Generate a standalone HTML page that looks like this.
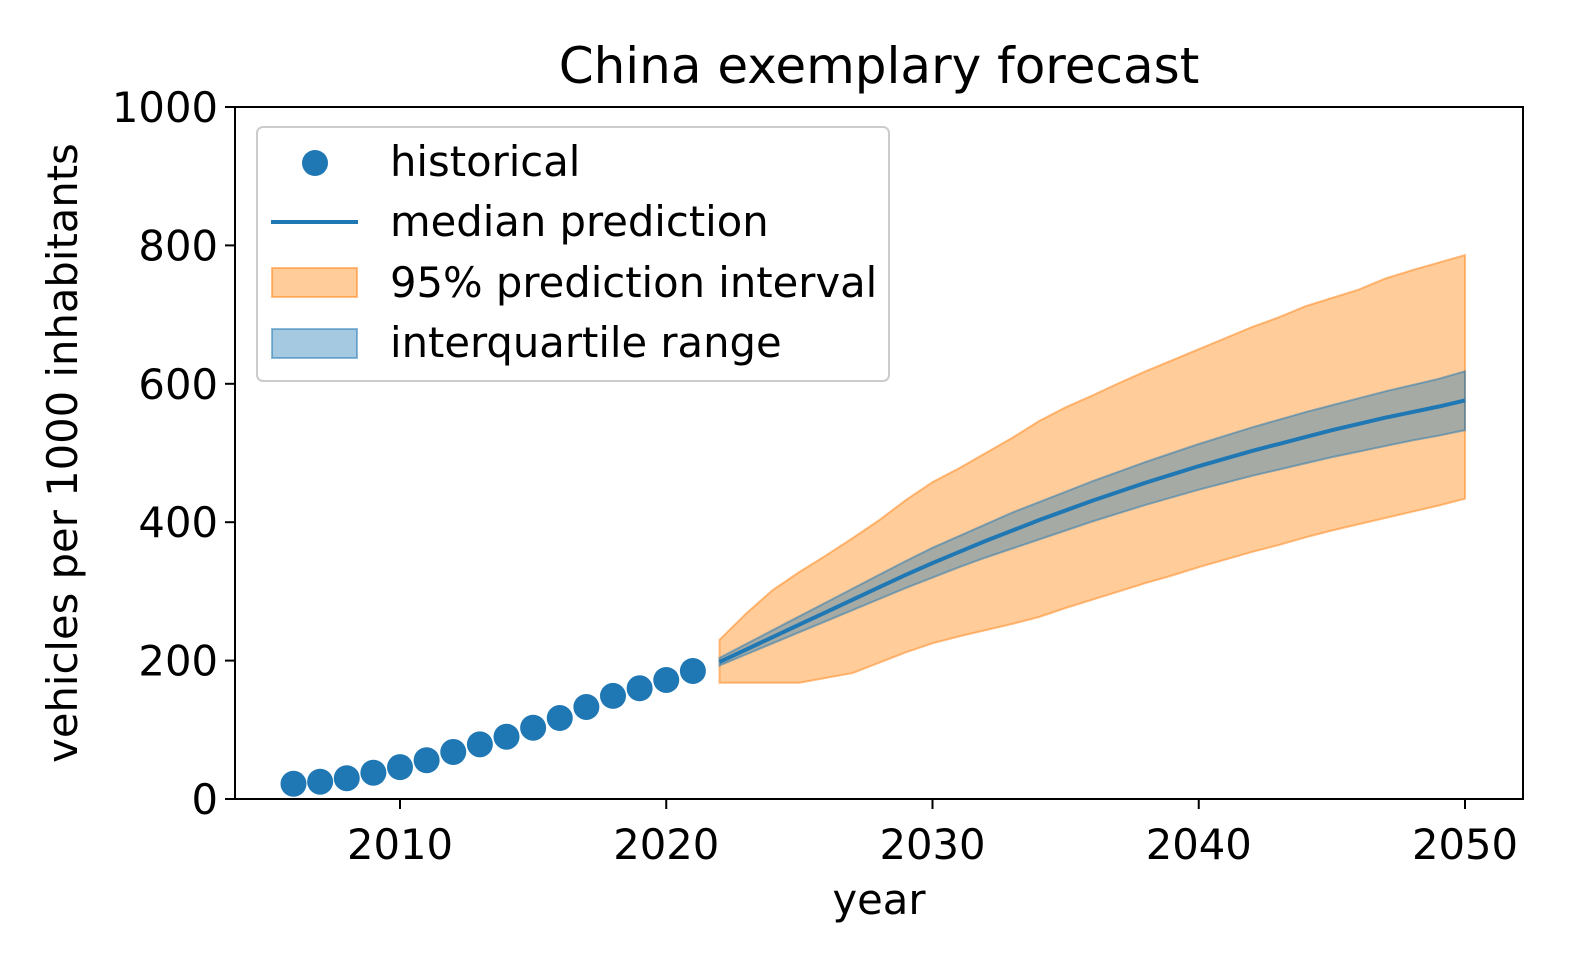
<!DOCTYPE html>
<html><head><meta charset="utf-8"><style>
body{margin:0;background:#fff}
svg text{font-family:"DejaVu Sans","Liberation Sans",sans-serif;fill:#000}
</style></head><body>
<svg width="1575" height="973" viewBox="0 0 1575 973">
<text x="879" y="83" font-size="50" text-anchor="middle">China exemplary forecast</text>
<g id="plot"></g>
<rect x="235" y="107" width="1288" height="692" fill="none" stroke="#000" stroke-width="2"/>
<g id="ticks"></g>
<text x="879" y="914" font-size="41.7" text-anchor="middle">year</text>
<text transform="translate(77,453) rotate(-90)" font-size="41.7" text-anchor="middle">vehicles per 1000 inhabitants</text>
<g>
<rect x="257" y="127" width="632" height="254" rx="6" fill="#fff" fill-opacity="0.8" stroke="#ccc" stroke-width="2"/>
<circle cx="315" cy="163" r="13" fill="#1f77b4"/>
<text x="390" y="176" font-size="41.7">historical</text>
<line x1="271" y1="222" x2="358" y2="222" stroke="#1f77b4" stroke-width="4"/>
<text x="390" y="236" font-size="41.7">median prediction</text>
<rect x="272" y="268" width="85" height="29" fill="#ffbb78" fill-opacity="0.75" stroke="#ff7f0e" stroke-opacity="0.5" stroke-width="2"/>
<text x="390" y="297" font-size="41.7">95% prediction interval</text>
<rect x="272" y="329" width="85" height="29" fill="#1f77b4" fill-opacity="0.4" stroke="#1f77b4" stroke-opacity="0.5" stroke-width="2"/>
<text x="390" y="357" font-size="41.7">interquartile range</text>
</g>
</svg>
<script>
const histYears=[2006,2007,2008,2009,2010,2011,2012,2013,2014,2015,2016,2017,2018,2019,2020,2021];
const histValues=[22,25,30,38,46,56,68,79,90,103,117,133,149,160,172,185];
const fcYears=[2022,2023,2024,2025,2026,2027,2028,2029,2030,2031,2032,2033,2034,2035,2036,2037,2038,2039,2040,2041,2042,2043,2044,2045,2046,2047,2048,2049,2050];
const median=[198,216,234,252,270,288,306,324,341,357,373,388,403,417,431,444,457,469,481,492,503,513,523,533,542,551,559,567,576];
const q75=[204,224,244,264,284,304,324,344,363,380,397,414,429,444,459,473,487,500,513,525,537,548,559,569,579,589,598,607,618];
const q25=[193,209,225,241,257,273,289,305,320,335,349,362,375,388,401,413,425,436,447,457,467,476,485,494,502,510,518,525,533];
const p975=[230,268,302,328,352,377,403,432,458,478,500,522,546,566,583,601,618,634,650,666,682,696,712,724,736,752,764,775,786];
const p025=[168,168,168,168,175,182,197,212,225,235,244,253,263,276,288,300,312,323,335,346,357,367,378,388,397,406,415,424,434];
const xTicks=[2010,2020,2030,2040,2050];
const yTicks=[0,200,400,600,800,1000];
const NS='http://www.w3.org/2000/svg';
const X=v=>400+(v-2010)*26.625;
const Y=v=>799-v*0.692;
const plot=document.getElementById('plot'),ticks=document.getElementById('ticks');
function mk(tag,attrs,parent){const e=document.createElementNS(NS,tag);for(const k in attrs)e.setAttribute(k,attrs[k]);parent.appendChild(e);return e;}
function band(lo,hi){let d='';fcYears.forEach((y,i)=>{d+=(i?'L':'M')+X(y)+','+Y(hi[i]);});for(let i=fcYears.length-1;i>=0;i--)d+='L'+X(fcYears[i])+','+Y(lo[i]);return d+'Z';}
const b95=mk('path',{d:band(p025,p975),fill:'#ffbb78','fill-opacity':0.75,stroke:'#ff7f0e','stroke-opacity':0.5,'stroke-width':2},plot);


const biqr=mk('path',{d:band(q25,q75),fill:'#1f77b4','fill-opacity':0.4,stroke:'#1f77b4','stroke-opacity':0.5,'stroke-width':2},plot);


const ml=mk('polyline',{points:fcYears.map((y,i)=>X(y)+','+Y(median[i])).join(' '),fill:'none',stroke:'#1f77b4','stroke-width':4},plot);


histYears.forEach((y,i)=>{const c=mk('circle',{cx:X(y),cy:Y(histValues[i]),r:13,fill:'#1f77b4'},plot);

});
xTicks.forEach(t=>{mk('line',{x1:X(t),x2:X(t),y1:799,y2:809,stroke:'#000','stroke-width':2},ticks);
const tx=mk('text',{x:X(t),y:859,'font-size':41.7,'text-anchor':'middle'},ticks);tx.textContent=t;

});
yTicks.forEach(t=>{mk('line',{x1:225,x2:235,y1:Y(t),y2:Y(t),stroke:'#000','stroke-width':2},ticks);
const tx=mk('text',{x:218,y:Y(t)+15,'font-size':41.7,'text-anchor':'end'},ticks);tx.textContent=t;

});
</script>
</body></html>
